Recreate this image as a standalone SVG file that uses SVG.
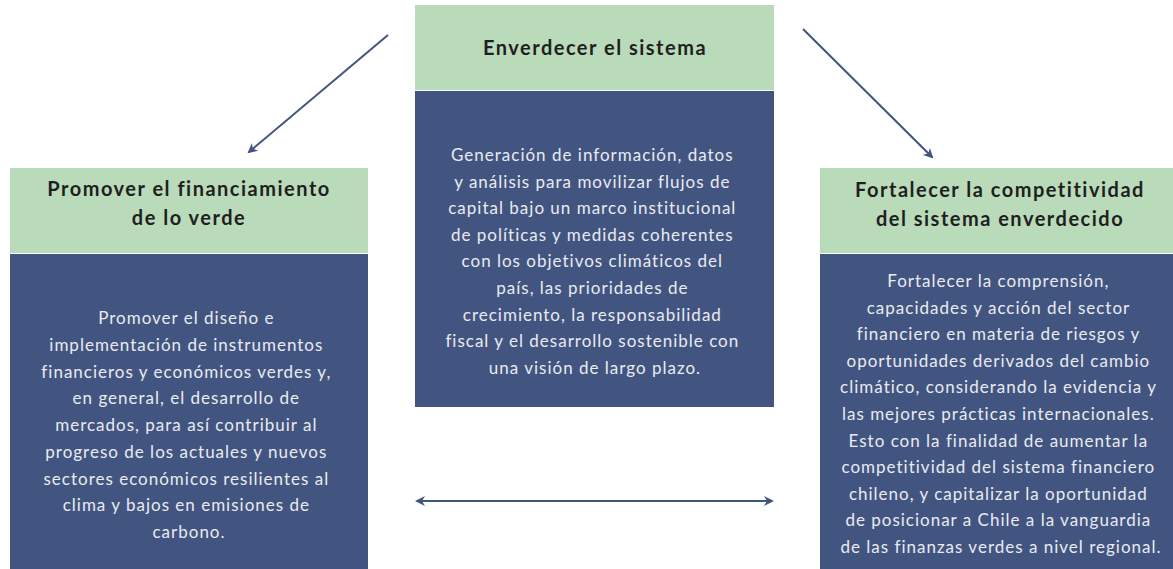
<svg xmlns="http://www.w3.org/2000/svg" width="1173" height="569" viewBox="0 0 1173 569">
<defs>
<style>
.head{fill:#badbba}
.body{fill:#425580}
.title{font-family:Lato,"Liberation Sans",sans-serif;font-weight:bold;font-size:20px;letter-spacing:1.5px;fill:#1f1f1f;text-anchor:middle}
.txt{font-family:Lato,"Liberation Sans",sans-serif;font-size:17px;letter-spacing:1px;fill:#e9ebf1;text-anchor:middle}
.conn{stroke:#42557f;stroke-width:2;fill:none}
</style>
<marker id="ah" viewBox="0 0 10 10" refX="8" refY="5" markerWidth="5" markerHeight="5" orient="auto-start-reverse">
<path d="M0,0 L10,5 L0,10 L3,5 Z" fill="#42557f"/>
</marker>
</defs>
<rect width="1173" height="569" fill="#ffffff"/>
<g id="connectors">
<line class="conn" x1="388" y1="35" x2="249" y2="152" marker-end="url(#ah)"/>
<line class="conn" x1="803" y1="29" x2="932" y2="157" marker-end="url(#ah)"/>
<line class="conn" x1="417" y1="501" x2="772" y2="501" marker-start="url(#ah)" marker-end="url(#ah)"/>
</g>
<g id="node-center">
<rect class="head" x="415" y="5" width="359" height="85"/>
<rect class="body" x="415" y="91" width="359" height="316"/>
<text class="title" x="595" y="55">Enverdecer el sistema</text>
<text class="txt">
<tspan x="595" y="161">Generación de información, datos</tspan>
<tspan x="595" y="187.6">y análisis para movilizar flujos de</tspan>
<tspan x="595" y="214.2">capital bajo un marco institucional</tspan>
<tspan x="595" y="240.8">de políticas y medidas coherentes</tspan>
<tspan x="595" y="267.4">con los objetivos climáticos del</tspan>
<tspan x="595" y="294">país, las prioridades de</tspan>
<tspan x="595" y="320.6">crecimiento, la responsabilidad</tspan>
<tspan x="595" y="347.2">fiscal y el desarrollo sostenible con</tspan>
<tspan x="595" y="373.8">una visión de largo plazo.</tspan>
</text>
</g>
<g id="node-left">
<rect class="head" x="10" y="168" width="358" height="85"/>
<rect class="body" x="10" y="254" width="358" height="315"/>
<text class="title"><tspan x="189" y="196">Promover el financiamiento</tspan><tspan x="189" y="225">de lo verde</tspan></text>
<text class="txt">
<tspan x="189" y="324">Promover el diseño e</tspan>
<tspan x="189" y="350.75">implementación de instrumentos</tspan>
<tspan x="189" y="377.5">financieros y económicos verdes y,</tspan>
<tspan x="189" y="404.25">en general, el desarrollo de</tspan>
<tspan x="189" y="431">mercados, para así contribuir al</tspan>
<tspan x="189" y="457.75">progreso de los actuales y nuevos</tspan>
<tspan x="189" y="484.5">sectores económicos resilientes al</tspan>
<tspan x="189" y="511.25">clima y bajos en emisiones de</tspan>
<tspan x="189" y="538">carbono.</tspan>
</text>
</g>
<g id="node-right">
<rect class="head" x="820" y="168" width="353" height="85"/>
<rect class="body" x="820" y="254" width="353" height="315"/>
<text class="title"><tspan x="1000" y="197">Fortalecer la competitividad</tspan><tspan x="1000" y="226">del sistema enverdecido</tspan></text>
<text class="txt">
<tspan x="1001" y="287">Fortalecer la comprensión,</tspan>
<tspan x="1001" y="313.6">capacidades y acción del sector</tspan>
<tspan x="1001" y="340.2">financiero en materia de riesgos y</tspan>
<tspan x="1001" y="366.8">oportunidades derivados del cambio</tspan>
<tspan x="1001" y="393.4">climático, considerando la evidencia y</tspan>
<tspan x="1001" y="420">las mejores prácticas internacionales.</tspan>
<tspan x="1001" y="446.6">Esto con la finalidad de aumentar la</tspan>
<tspan x="1001" y="473.2">competitividad del sistema financiero</tspan>
<tspan x="1001" y="499.8">chileno, y capitalizar la oportunidad</tspan>
<tspan x="1001" y="526.4">de posicionar a Chile a la vanguardia</tspan>
<tspan x="1001" y="553">de las finanzas verdes a nivel regional.</tspan>
</text>
</g>
</svg>
